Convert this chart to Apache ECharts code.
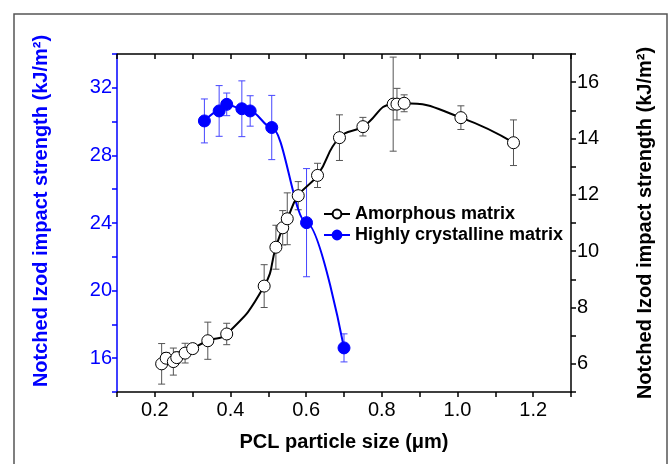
<!DOCTYPE html>
<html>
<head>
<meta charset="utf-8">
<script src="https://cdn.jsdelivr.net/npm/echarts@6/dist/echarts.min.js"></script>
<style>
  html, body { margin: 0; padding: 0; background: #fff; }
  #chart { width: 669px; height: 464px; }
</style>
</head>
<body>
<div id="chart"></div>
<script>
// PCL particle size (um) / impact strength
const crystX = [0.331, 0.37, 0.39, 0.43, 0.452, 0.509, 0.601, 0.70];
const crystY = [30.04, 30.63, 31.02, 30.76, 30.63, 29.65, 24.02, 16.61];
const crystErr = [1.3, 1.5, 0.67, 1.65, 0.9, 1.9, 3.2, 0.83];

const amorX = [0.218, 0.23, 0.249, 0.258, 0.28, 0.30, 0.34, 0.39, 0.489, 0.52, 0.538, 0.55, 0.579, 0.63, 0.688, 0.75, 0.83, 0.84, 0.859, 1.009, 1.148];
const amorY = [6.0, 6.2, 6.08, 6.22, 6.38, 6.54, 6.82, 7.06, 8.76, 10.14, 10.83, 11.15, 11.97, 12.69, 14.03, 14.42, 15.22, 15.22, 15.25, 14.74, 13.85];
const amorErr = [0.72, 0.2, 0.48, 0.2, 0.35, 0.15, 0.66, 0.38, 0.76, 0.78, 0.61, 0.92, 0.5, 0.43, 0.81, 0.33, 1.67, 0.56, 0.3, 0.42, 0.81];

const xTicks = [0.2, 0.4, 0.6, 0.8, 1.0, 1.2];
const leftTicks = [16, 20, 24, 28, 32];
const rightTicks = [6, 8, 10, 12, 14, 16];

const BLUE = '#0000ff';
const FONT = 'Liberation Sans, Arial, sans-serif';

let chart = echarts.init(document.getElementById('chart'), null, { renderer: 'canvas' });

function pairs(xs, ys) {
  return xs.map(function (x, i) { return [x, ys[i]]; });
}
function bars(xs, ys, es) {
  return xs.map(function (x, i) { return [x, ys[i] - es[i], ys[i] + es[i]]; });
}
// error bar drawn with axis coords
function errorBar(color) {
  return function (params, api) {
    let lo = api.coord([api.value(0), api.value(1)]);
    let hi = api.coord([api.value(0), api.value(2)]);
    let w = 3.5;
    let st = { stroke: color, lineWidth: 1 };
    return {
      type: 'group',
      children: [
        { type: 'line', shape: { x1: lo[0], y1: lo[1], x2: hi[0], y2: hi[1] }, style: st },
        { type: 'line', shape: { x1: lo[0] - w, y1: lo[1], x2: lo[0] + w, y2: lo[1] }, style: st },
        { type: 'line', shape: { x1: hi[0] - w, y1: hi[1], x2: hi[0] + w, y2: hi[1] }, style: st }
      ]
    };
  };
}
function onlyIn(list, digits) {
  return function (v) {
    for (let i = 0; i < list.length; i++) {
      if (Math.abs(v - list[i]) < 1e-6) return digits ? v.toFixed(digits) : String(v);
    }
    return '';
  };
}

let option = {
  animation: false,
  backgroundColor: '#fff',
  graphic: [{
    type: 'rect',
    shape: { x: 14, y: 14, width: 653, height: 470 },
    style: { fill: 'none', stroke: '#555', lineWidth: 1.5 },
    silent: true
  }],
  grid: { left: 117, right: 98, top: 54, bottom: 72 },
  legend: {
    data: ['Amorphous matrix', 'Highly crystalline matrix'],
    orient: 'vertical',
    left: 318,
    top: 200,
    itemWidth: 26,
    itemHeight: 11,
    itemGap: 3,
    textStyle: { fontFamily: FONT, fontWeight: 'bold', fontSize: 18, color: '#000' }
  },
  xAxis: [{
    type: 'value',
    min: 0.1,
    max: 1.3,
    interval: 0.1,
    name: 'PCL particle size (μm)',
    nameLocation: 'middle',
    nameGap: 40,
    nameTextStyle: { fontFamily: FONT, fontWeight: 'bold', fontSize: 20, color: '#000' },
    axisLine: { lineStyle: { color: '#000', width: 1.5 } },
    axisTick: { length: 5, lineStyle: { color: '#000', width: 1.5 } },
    axisLabel: { fontFamily: FONT, fontSize: 20, color: '#000', margin: 8, formatter: onlyIn(xTicks, 1) },
    splitLine: { show: false }
  }, {
    type: 'value',
    position: 'top',
    min: 0.1,
    max: 1.3,
    interval: 0.1,
    axisLine: { lineStyle: { color: '#000', width: 1.5 } },
    axisTick: { inside: true, length: 5, lineStyle: { color: '#000', width: 1.5 } },
    axisLabel: { show: false },
    splitLine: { show: false }
  }],
  yAxis: [{
    type: 'value',
    min: 14,
    max: 34,
    interval: 2,
    name: 'Notched Izod impact strength (kJ/m²)',
    nameLocation: 'middle',
    nameGap: 66,
    nameTextStyle: { fontFamily: FONT, fontWeight: 'bold', fontSize: 20, color: BLUE, padding: [0, 0, 0, 24] },
    axisLine: { show: true, lineStyle: { color: BLUE, width: 1.5 } },
    axisTick: { length: 5, lineStyle: { color: BLUE, width: 1.5 } },
    axisLabel: { fontFamily: FONT, fontSize: 20, color: BLUE, margin: 5, formatter: onlyIn(leftTicks) },
    splitLine: { show: false }
  }, {
    type: 'value',
    position: 'right',
    min: 5,
    max: 17,
    interval: 1,
    name: 'Notched Izod impact strength (kJ/m²)',
    nameLocation: 'middle',
    nameGap: 64,
    nameRotate: 90,
    nameTextStyle: { fontFamily: FONT, fontWeight: 'bold', fontSize: 20, color: '#000' },
    axisLine: { show: true, lineStyle: { color: '#000', width: 1.5 } },
    axisTick: { length: 5, lineStyle: { color: '#000', width: 1.5 } },
    axisLabel: { fontFamily: FONT, fontSize: 20, color: '#000', margin: 6, formatter: onlyIn(rightTicks) },
    splitLine: { show: false }
  }],
  series: [
    {
      name: 'amor-err',
      type: 'custom',
      yAxisIndex: 1,
      renderItem: errorBar('#555'),
      encode: { x: 0, y: [1, 2] },
      data: bars(amorX, amorY, amorErr),
      z: 1
    },
    {
      name: 'cryst-err',
      type: 'custom',
      yAxisIndex: 0,
      renderItem: errorBar('#4646ff'),
      encode: { x: 0, y: [1, 2] },
      data: bars(crystX, crystY, crystErr),
      z: 1
    },
    {
      name: 'Highly crystalline matrix',
      type: 'line',
      yAxisIndex: 0,
      smooth: 0.35,
      smoothMonotone: 'x',
      symbol: 'circle',
      symbolSize: 12,
      data: pairs(crystX, crystY),
      lineStyle: { color: BLUE, width: 2 },
      itemStyle: { color: BLUE, borderColor: BLUE, borderWidth: 1 },
      z: 3
    },
    {
      name: 'Amorphous matrix',
      type: 'line',
      yAxisIndex: 1,
      smooth: 0.5,
      symbol: 'circle',
      symbolSize: 12,
      data: pairs(amorX, amorY),
      lineStyle: { color: '#000', width: 2 },
      itemStyle: { color: '#fff', borderColor: '#000', borderWidth: 1 },
      z: 4
    }
  ]
};

chart.setOption(option);
</script>
</body>
</html>
